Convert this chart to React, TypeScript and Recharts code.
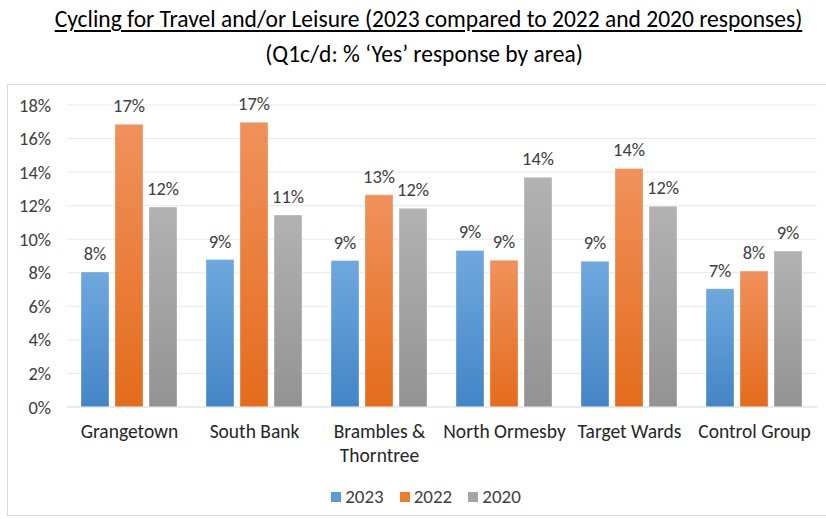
import { Bar, BarChart, CartesianGrid, LabelList, Legend, XAxis, YAxis } from 'recharts';

const areas = [
  'Grangetown',
  'South Bank',
  'Brambles & Thorntree',
  'North Ormesby',
  'Target Wards',
  'Control Group',
];
const years = ['2023', '2022', '2020'];
const y2023 = [8.05, 8.79, 8.73, 9.33, 8.69, 7.05];
const y2022 = [16.85, 16.97, 12.65, 8.75, 14.22, 8.1];
const y2020 = [11.92, 11.44, 11.84, 13.69, 11.96, 9.3];
const yTicks = [0, 2, 4, 6, 8, 10, 12, 14, 16, 18];

const data = areas.map((area, i) => ({
  area,
  '2023': y2023[i],
  '2022': y2022[i],
  '2020': y2020[i],
}));

const font = 'Carlito, Calibri, Lato, sans-serif';

const seriesColors: Record<string, string> = {
  '2023': '#5b9bd5',
  '2022': '#ed7d31',
  '2020': '#a5a5a5',
};

const AreaTick = ({ x, y, payload }: any) => {
  const lines = String(payload.value).split(/(?<=&) /);
  return (
    <text
      x={x}
      y={y}
      textAnchor='middle'
      fill='#262626'
      style={{ fontFamily: font, fontSize: 19.5 }}>
      {lines.map((line, i) => (
        <tspan key={i} x={x} dy={i === 0 ? 31 : 24}>
          {line}
        </tspan>
      ))}
    </text>
  );
};

const LegendContent = () => (
  <div
    style={{
      display: 'flex',
      justifyContent: 'center',
      gap: 16,
      fontFamily: font,
      fontSize: 19,
      color: '#404040',
    }}>
    {years.map((y) => (
      <div key={y} style={{ display: 'flex', alignItems: 'center', gap: 4 }}>
        <span
          style={{
            display: 'inline-block',
            width: 10,
            height: 10,
            background: seriesColors[y],
          }}
        />
        <span>{y}</span>
      </div>
    ))}
  </div>
);

const labelFmt = (v: any) => `${Math.round(Number(v))}%`;

export default function App() {
  return (
    <div
      style={{
        position: 'absolute',
        left: 0,
        top: 0,
        width: 826,
        height: 519,
        background: '#fff',
        overflow: 'hidden',
        fontFamily: font,
      }}>
      <div
        style={{
          position: 'absolute',
          top: 5,
          left: 0,
          width: 857,
          textAlign: 'center',
          fontSize: 23.5,
          color: '#000',
          textDecoration: 'underline',
          textUnderlineOffset: 3,
          whiteSpace: 'nowrap',
        }}>
        Cycling for Travel and/or Leisure (2023 compared to 2022 and 2020
        responses)
      </div>
      <div
        style={{
          position: 'absolute',
          top: 40,
          left: 0,
          width: 848,
          textAlign: 'center',
          fontSize: 23.5,
          color: '#000',
        }}>
        (Q1c/d: % ‘Yes’ response by area)
      </div>
      <div
        style={{
          position: 'absolute',
          left: 7,
          top: 84,
          width: 830,
          height: 430,
          border: '1px solid #d9d9d9',
        }}
      />
      <div style={{ position: 'absolute', left: 0, top: 0 }}>
        <BarChart
          width={826}
          height={519}
          data={data}
          margin={{ top: 105, right: 9, bottom: 82, left: 0 }}
          barCategoryGap={14}
          barGap={6}>
          <defs>
            <linearGradient id='g2023' x1='0' y1='0' x2='0' y2='1'>
              <stop offset='0%' stopColor='#6fa8de' />
              <stop offset='100%' stopColor='#4485c6' />
            </linearGradient>
            <linearGradient id='g2022' x1='0' y1='0' x2='0' y2='1'>
              <stop offset='0%' stopColor='#f0915c' />
              <stop offset='100%' stopColor='#e46c1c' />
            </linearGradient>
            <linearGradient id='g2020' x1='0' y1='0' x2='0' y2='1'>
              <stop offset='0%' stopColor='#b2b2b2' />
              <stop offset='100%' stopColor='#939393' />
            </linearGradient>
          </defs>
          <CartesianGrid vertical={false} stroke='#e6e9ee' />
          <XAxis
            dataKey='area'
            tick={<AreaTick />}
            tickLine={false}
            tickSize={0}
            tickMargin={0}
            axisLine={{ stroke: '#dde1e8' }}
            interval={0}
          />
          <YAxis
            width={67}
            domain={[0, 18]}
            ticks={yTicks}
            tickFormatter={(v: number) => `${v}%`}
            axisLine={false}
            tickLine={false}
            tickSize={0}
            tickMargin={16}
            tick={{ fill: '#404040', fontSize: 18.5, fontFamily: font }}
          />
          <Legend
            layout='horizontal'
            verticalAlign='middle'
            align='center'
            wrapperStyle={{ top: 485, left: 0, width: 852 }}
            content={<LegendContent />}
          />
          {years.map((k) => (
            <Bar
              key={k}
              dataKey={k}
              fill={`url(#g${k})`}
              stroke='rgba(255,255,255,0.35)'
              isAnimationActive={false}>
              <LabelList
                dataKey={k}
                position='top'
                offset={12}
                formatter={labelFmt}
                style={{ fill: '#404040', fontSize: 18.5, fontFamily: font }}
              />
            </Bar>
          ))}
        </BarChart>
      </div>
    </div>
  );
}
